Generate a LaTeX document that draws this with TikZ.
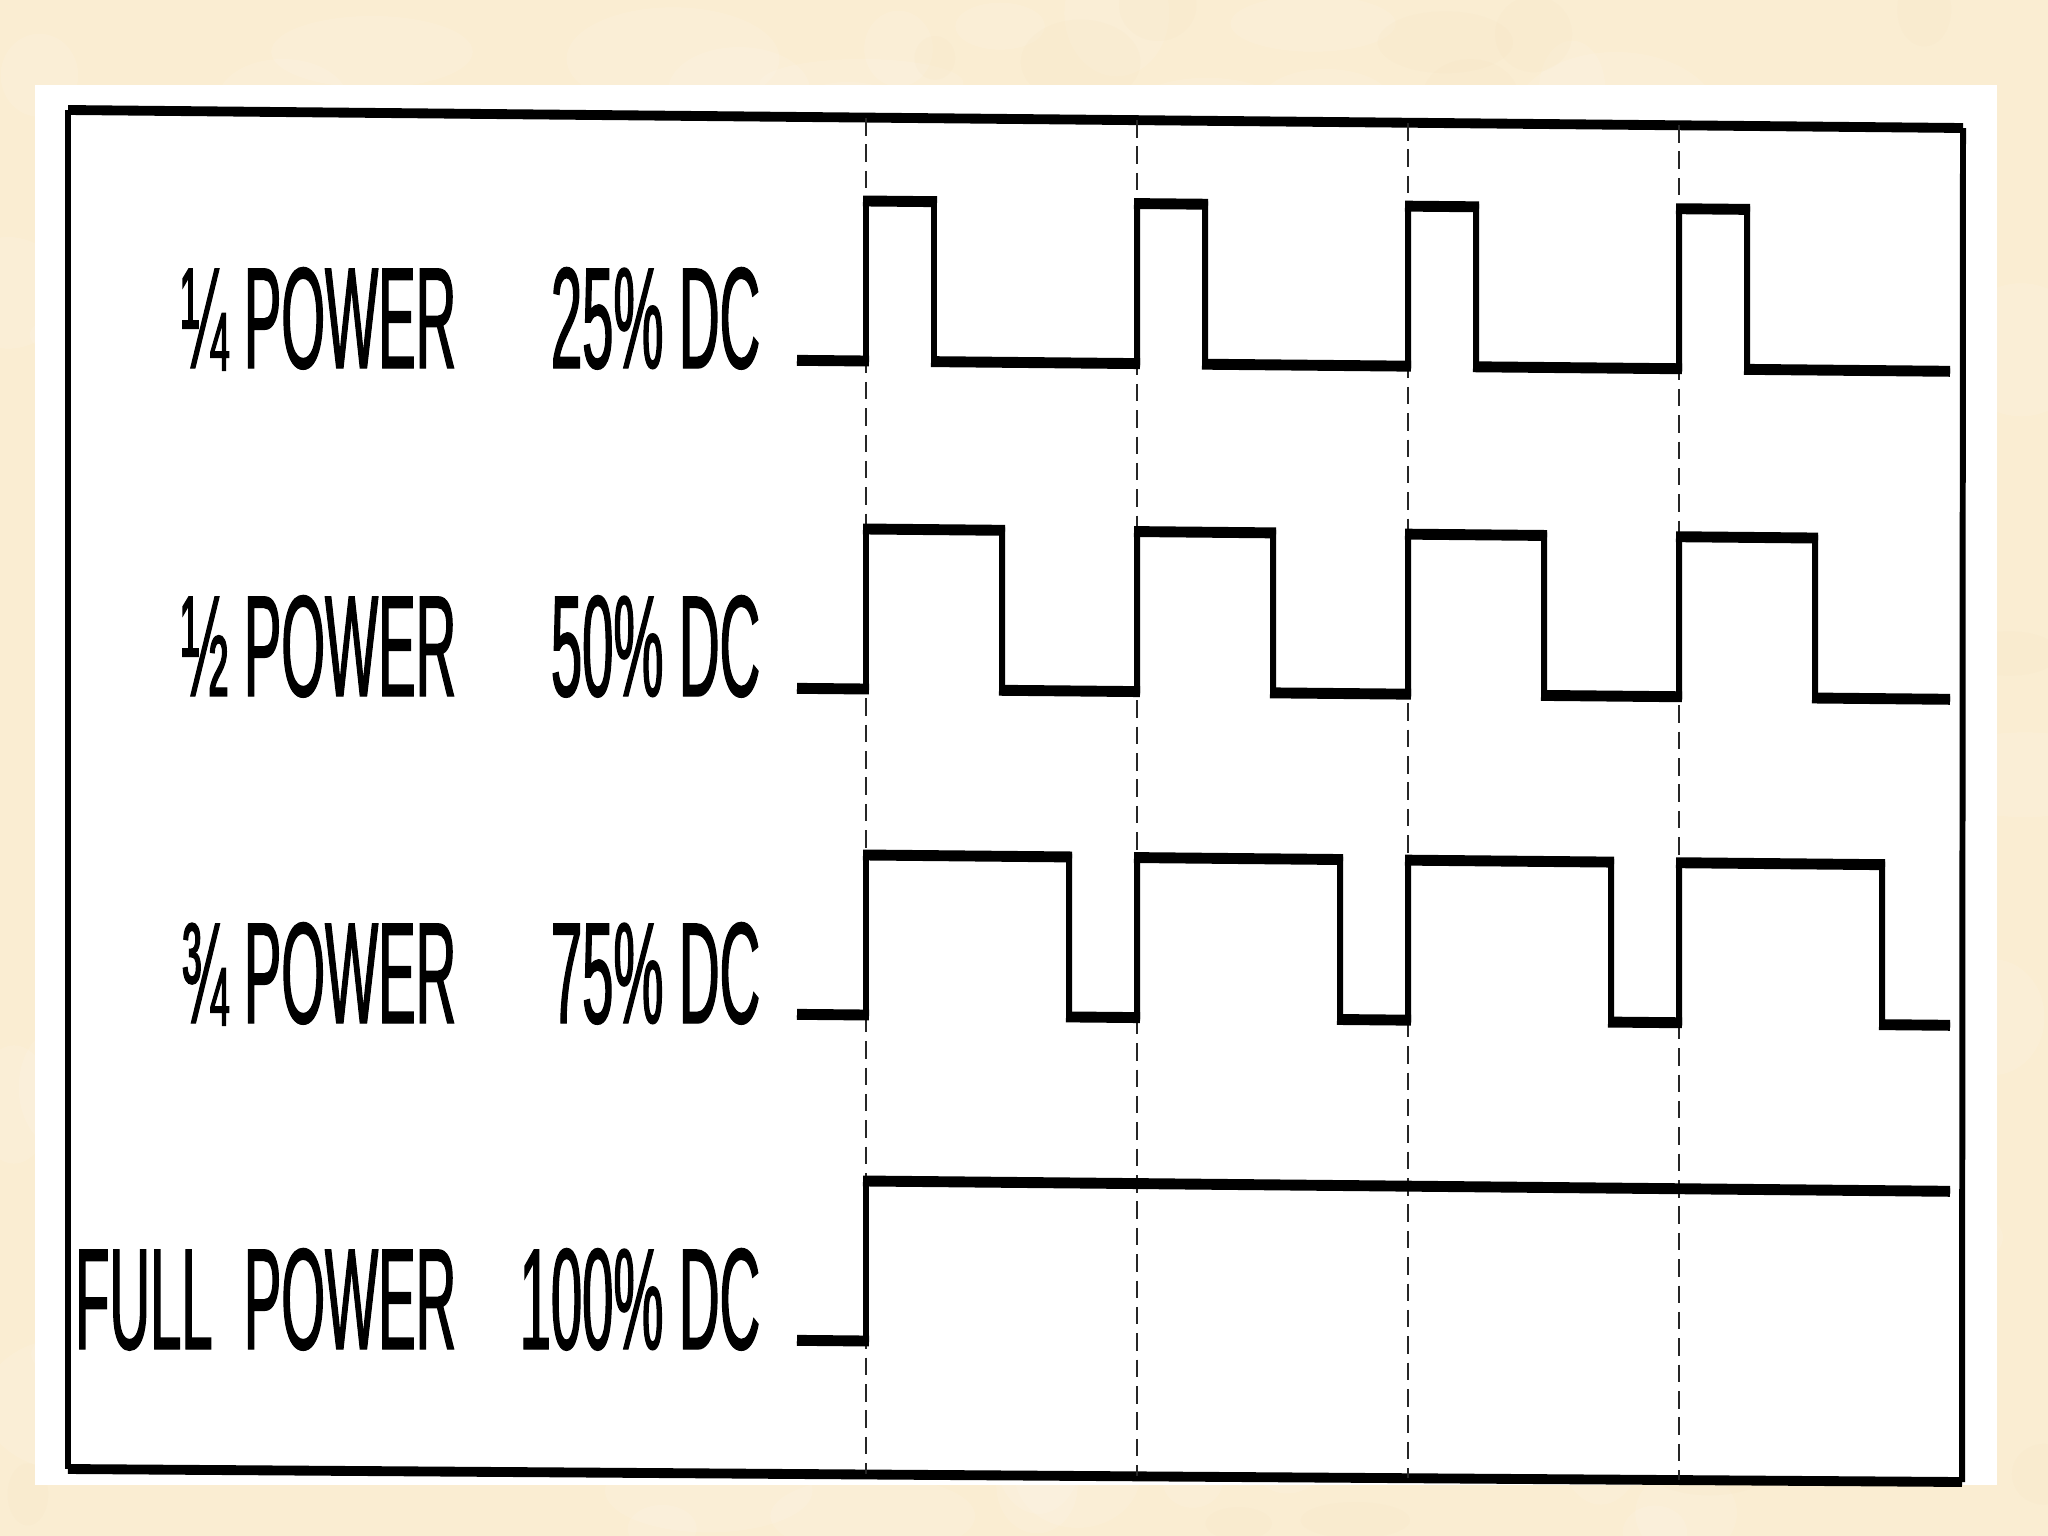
\documentclass[tikz,border=0pt]{standalone}
\usepackage{fontspec}
\setmainfont[FakeStretch=0.39,FakeBold=0.9]{Liberation Sans}
\definecolor{bg}{RGB}{250,237,210}
\definecolor{bgdark}{RGB}{236,214,170}
\newcommand\pwmrow[2]{%
  \pgfmathsetmacro\hiy{#1-160}%
  \draw[vedge] (797,#1) \foreach \t in {866,1137,1408,1679}{ -- (\t,#1) -- (\t,\hiy) -- ({\t+#2},\hiy) -- ({\t+#2},#1)} -- (1950,#1);
  \foreach \t in {866,1137,1408,1679}{\draw[hedge] ({\t-3},\hiy) -- ({\t+#2+3},\hiy);}
  \draw[hedge] (797,#1) -- (869,#1);
  \foreach \t/\n in {866/1137,1137/1408,1408/1679}{\draw[hedge] ({\t+#2-3},#1) -- ({\n+3},#1);}
  \draw[hedge] ({1679+#2-3},#1) -- (1950,#1);
}
\begin{document}
\begin{tikzpicture}[x=0.01cm,y=-0.01cm,
  lbl/.style={font=\fontsize{41}{45}\selectfont, inner sep=0pt, anchor=base east},
  vedge/.style={line width=1.7pt, line join=miter},
  hedge/.style={line width=3.1pt, line cap=butt},
  grid/.style={line width=0.7pt, black!85, dash pattern=on 5pt off 2.5pt},
  thickframe/.style={line width=2.8pt, line cap=square},
  thinframe/.style={line width=1.5pt, line cap=square}]
\useasboundingbox (0,0) rectangle (2048,1536);
\fill[bg] (0,0) rectangle (2048,1536);
% mottled paper texture
\pgfmathsetseed{7}
\foreach \i in {1,...,160}{
  \pgfmathsetmacro\px{rnd*2048}
  \pgfmathsetmacro\py{rnd*1536}
  \pgfmathsetmacro\rx{30+rnd*80}
  \pgfmathsetmacro\ry{20+rnd*50}
  \fill[white, opacity=0.10] (\px,\py) ellipse [x radius=\rx, y radius=\ry];
}
\foreach \i in {1,...,90}{
  \pgfmathsetmacro\px{rnd*2048}
  \pgfmathsetmacro\py{rnd*1536}
  \pgfmathsetmacro\rx{20+rnd*50}
  \pgfmathsetmacro\ry{15+rnd*30}
  \fill[bgdark, opacity=0.07] (\px,\py) ellipse [x radius=\rx, y radius=\ry];
}
\fill[white] (35,85) rectangle (1997,1485);
% frame
\coordinate (tl) at (68,110);
\coordinate (tr) at (1963,128);
\coordinate (br) at (1962,1482);
\coordinate (bl) at (68,1469);
\draw[thinframe] (tl) -- (bl);
\draw[thinframe, line width=1.7pt] (tr) -- (br);
\draw[thickframe] (tl) -- (tr);
\draw[thickframe] (bl) -- (br);
% dashed time marks
\coordinate (g1t) at (866,118);  \coordinate (g1b) at (866,1474);
\coordinate (g2t) at (1137,120); \coordinate (g2b) at (1137,1476);
\coordinate (g3t) at (1408,123); \coordinate (g3b) at (1408,1478);
\coordinate (g4t) at (1679,125); \coordinate (g4b) at (1679,1480);
\draw[grid] (g1t) -- (g1b);
\draw[grid] (g2t) -- (g2b);
\draw[grid] (g3t) -- (g3b);
\draw[grid] (g4t) -- (g4b);
% waveforms (slightly sheared like the scan)
\begin{scope}[cm={1,-0.0095,0,1,(0,0.0823cm)}]
  \pwmrow{361}{68}
  \pwmrow{689}{136}
  \pwmrow{1015}{203}
  \draw[vedge] (797,1341) -- (866,1341) -- (866,1181) -- (1950,1181);
  \draw[hedge] (797,1341) -- (869,1341);
  \draw[hedge] (863,1181) -- (1950,1181);
\end{scope}
% labels
\node[lbl] (p1) at (457,368) {¼ POWER};
\node[lbl] (d1) at (761,368) {25\% DC};
\node[lbl] (p2) at (457,696) {½ POWER};
\node[lbl] (d2) at (761,696) {50\% DC};
\node[lbl] (p3) at (457,1023) {¾ POWER};
\node[lbl] (d3) at (761,1023) {75\% DC};
\node[lbl] (p4) at (457,1349) {FULL\ \ POWER};
\node[lbl] (d4) at (761,1349) {100\% DC};
\end{tikzpicture}
\end{document}
